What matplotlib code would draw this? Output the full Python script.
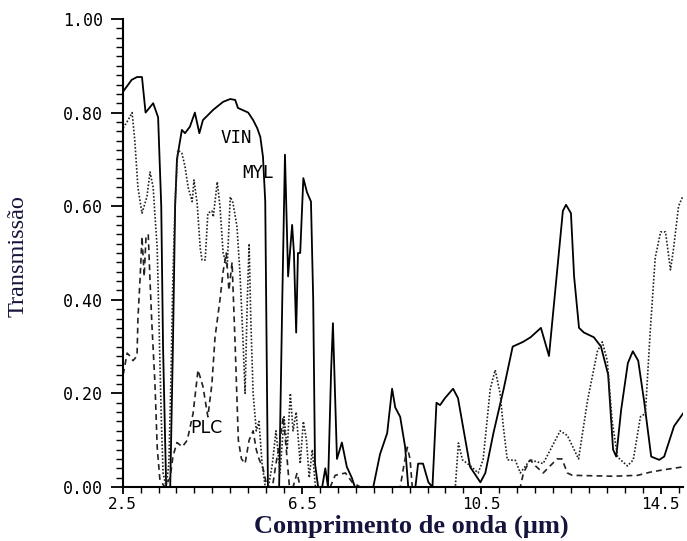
import numpy as np
import matplotlib
matplotlib.use('Agg')
import matplotlib.pyplot as plt
from matplotlib.ticker import FixedLocator

# wavelength (um) / transmission

vin_x = [2.51, 2.70, 2.82, 2.93, 3.01, 3.18, 3.29, 3.36, 3.40, 3.47, 3.56, 3.62, 3.67, 3.71,
         3.82, 3.89, 4.00, 4.11, 4.21, 4.29, 4.52, 4.74, 4.90, 5.01, 5.07, 5.30, 5.41, 5.50,
         5.57, 5.63, 5.68, 5.74, 5.94, 5.99, 6.06, 6.12, 6.19, 6.23, 6.28, 6.32, 6.37, 6.41,
         6.46, 6.53, 6.61, 6.70, 6.75, 6.79, 6.86, 6.95, 7.02, 7.08, 7.15, 7.19, 7.28, 7.39,
         7.50, 7.61, 7.68, 8.09, 8.24, 8.40, 8.51, 8.58, 8.69, 8.80, 8.87, 9.03, 9.09, 9.20,
         9.32, 9.41, 9.50, 9.58, 9.69, 9.87, 9.98, 10.25, 10.48, 10.59, 10.77, 11.00, 11.20,
         11.43, 11.60, 11.83, 12.01, 12.21, 12.32, 12.39, 12.50, 12.57, 12.68, 12.79, 13.01,
         13.17, 13.33, 13.44, 13.51, 13.62, 13.77, 13.88, 14.00, 14.13, 14.29, 14.47, 14.58,
         14.80, 15.00]
vin_y = [0.845, 0.87, 0.876, 0.876, 0.80, 0.82, 0.79, 0.60, 0.30, 0.0, 0.0, 0.30, 0.60, 0.70,
         0.763, 0.756, 0.77, 0.80, 0.756, 0.784, 0.806, 0.823, 0.829, 0.827, 0.81, 0.80, 0.784, 0.767,
         0.748, 0.705, 0.61, 0.0, 0.0, 0.0, 0.40, 0.71, 0.45, 0.50, 0.56, 0.50, 0.33, 0.50,
         0.50, 0.66, 0.63, 0.61, 0.40, 0.05, 0.0, 0.0, 0.04, 0.0, 0.25, 0.35, 0.06, 0.095,
         0.043, 0.02, 0.0, 0.0, 0.07, 0.115, 0.21, 0.17, 0.15, 0.086, 0.0, 0.0, 0.05, 0.05,
         0.01, 0.0, 0.18, 0.175, 0.19, 0.21, 0.19, 0.043, 0.01, 0.03, 0.115, 0.21, 0.30,
         0.31, 0.32, 0.34, 0.28, 0.48, 0.59, 0.603, 0.585, 0.45, 0.34, 0.33, 0.32,
         0.30, 0.24, 0.08, 0.065, 0.165, 0.265, 0.29, 0.27, 0.185, 0.065, 0.058, 0.065,
         0.13, 0.157]

myl_x = [2.51, 2.62, 2.71, 2.77, 2.84, 2.93, 3.04, 3.11, 3.18, 3.22, 3.27, 3.31, 3.36, 3.40,
         3.47, 3.53, 3.58, 3.62, 3.67, 3.73, 3.82, 3.89, 3.96, 4.05, 4.09, 4.16, 4.23, 4.27,
         4.34, 4.40, 4.49, 4.52, 4.61, 4.67, 4.74, 4.83, 4.90, 4.96, 5.05, 5.12, 5.19, 5.23,
         5.28, 5.32, 5.36, 5.41, 5.48, 5.54, 5.61, 5.68, 5.75, 5.84, 5.92, 6.01, 6.10, 6.17,
         6.24, 6.30, 6.37, 6.46, 6.53, 6.60, 6.66, 6.73, 6.80, 9.92, 9.99, 10.08, 10.26, 10.43,
         10.54, 10.70, 10.81, 10.92, 10.99, 11.08, 11.26, 11.37, 11.59, 11.88, 12.26, 12.42,
         12.67, 12.87, 13.09, 13.20, 13.31, 13.42, 13.54, 13.76, 13.89, 14.05, 14.16, 14.27,
         14.38, 14.50, 14.61, 14.72, 14.79, 14.90, 14.99]
myl_y = [0.767, 0.784, 0.80, 0.74, 0.64, 0.585, 0.62, 0.673, 0.64, 0.58, 0.51, 0.35, 0.15, 0.03,
         0.0, 0.05, 0.25, 0.45, 0.61, 0.72, 0.713, 0.685, 0.64, 0.61, 0.656, 0.607, 0.51, 0.485,
         0.485, 0.585, 0.59, 0.577, 0.652, 0.60, 0.50, 0.47, 0.62, 0.607, 0.556, 0.45, 0.30, 0.20,
         0.40, 0.52, 0.35, 0.20, 0.12, 0.14, 0.05, 0.0, 0.0, 0.05, 0.12, 0.03, 0.15, 0.08,
         0.20, 0.12, 0.16, 0.05, 0.14, 0.10, 0.02, 0.08, 0.0, 0.0, 0.094, 0.058, 0.045, 0.03,
         0.058, 0.21, 0.25, 0.20, 0.13, 0.058, 0.057, 0.03, 0.058, 0.05, 0.12, 0.11,
         0.06, 0.185, 0.29, 0.31, 0.27, 0.14, 0.064, 0.045, 0.058, 0.15, 0.157, 0.335,
         0.49, 0.545, 0.545, 0.464, 0.51, 0.60, 0.62]

plc_x = [2.51, 2.60, 2.66, 2.73, 2.82, 2.84, 2.89, 2.93, 2.98, 3.02, 3.07, 3.11, 3.15, 3.22,
         3.27, 3.33, 3.44, 3.56, 3.62, 3.71, 3.83, 3.94, 4.07, 4.18, 4.29, 4.40, 4.49, 4.56,
         4.67, 4.74, 4.81, 4.87, 4.94, 5.01, 5.08, 5.15, 5.23, 5.32, 5.41, 5.48, 5.54, 5.63,
         5.72, 5.84, 5.92, 6.01, 6.08, 6.15, 6.22, 6.30, 6.39, 6.46, 7.13, 7.24, 7.47, 7.62,
         7.80, 8.69, 8.78, 8.85, 8.91, 8.96, 11.37, 11.44, 11.59, 11.71, 11.88, 12.19, 12.30,
         12.42, 12.53, 13.45, 13.99, 14.28, 14.58, 15.00]
plc_y = [0.24, 0.286, 0.28, 0.27, 0.28, 0.36, 0.45, 0.535, 0.45, 0.535, 0.54, 0.44, 0.35, 0.22,
         0.085, 0.015, 0.0, 0.02, 0.065, 0.095, 0.086, 0.10, 0.157, 0.25, 0.215, 0.15, 0.22, 0.32,
         0.40, 0.46, 0.50, 0.42, 0.48, 0.30, 0.10, 0.06, 0.05, 0.10, 0.12, 0.08, 0.06, 0.04,
         0.0, 0.0, 0.05, 0.10, 0.15, 0.08, 0.0, 0.0, 0.03, 0.0, 0.0, 0.025, 0.03, 0.01,
         0.0, 0.0, 0.05, 0.085, 0.06, 0.0, 0.0, 0.03, 0.058, 0.045, 0.03, 0.06, 0.06,
         0.03, 0.025, 0.023, 0.025, 0.032, 0.037, 0.043]

x_major = [2.5, 6.5, 10.5, 14.5]
y_major = [0.0, 0.2, 0.4, 0.6, 0.8, 1.0]

fig = plt.figure(figsize=(6.87, 5.41), dpi=100)
ax = fig.add_axes([0.1786, 0.0998, 0.8156, 0.8651])

ax.plot(vin_x, vin_y, color='black', lw=1.3, ls='-')
ax.plot(myl_x, myl_y, color='#222222', lw=1.2, ls=(0, (1, 1.1)))
ax.plot(plc_x, plc_y, color='#222222', lw=1.2, ls=(0, (3.5, 2.5)))

ax.set_xlim(2.5, 15.0)
ax.set_ylim(0, 1.0)

ax.spines['top'].set_visible(False)
ax.spines['right'].set_visible(False)
ax.spines['left'].set_linewidth(1.5)
ax.spines['bottom'].set_linewidth(1.5)

ax.xaxis.set_major_locator(FixedLocator(x_major))
ax.xaxis.set_minor_locator(FixedLocator(np.arange(2.5, 15.01, 0.4)))
ax.yaxis.set_major_locator(FixedLocator(y_major))
ax.yaxis.set_minor_locator(FixedLocator(np.arange(0, 1.001, 0.02)))
ax.set_xticklabels(['%.1f' % v for v in x_major])
ax.set_yticklabels(['%.2f' % v for v in y_major])

mono = 'DejaVu Sans Mono'
ax.tick_params(axis='both', which='major', direction='out', width=1.3, labelsize=12)
ax.tick_params(axis='y', which='major', length=9, pad=5)
ax.tick_params(axis='y', which='minor', length=5, width=1.0)
ax.tick_params(axis='x', which='major', length=5, pad=2, labelsize=11.5)
ax.tick_params(axis='x', which='minor', length=4, width=1.0)
for lab in ax.get_xticklabels() + ax.get_yticklabels():
    lab.set_family(mono)

ax.text(4.69, 0.735, 'VIN', family=mono, fontsize=12.5)
ax.text(5.16, 0.66, 'MYL', family=mono, fontsize=12.5)
ax.text(4.0, 0.115, 'PLC', family='DejaVu Sans', fontsize=12.5)

fig.text(0.026, 0.527, 'Transmissão', rotation=90, family='Liberation Serif',
         fontsize=17.5, color='#14143c', ha='center', va='center')
fig.text(0.599, 0.006, 'Comprimento de onda (µm)', family='Liberation Serif',
         fontsize=19, fontweight='bold', color='#14143c', ha='center', va='bottom')

fig.savefig('out.png', dpi=100)
